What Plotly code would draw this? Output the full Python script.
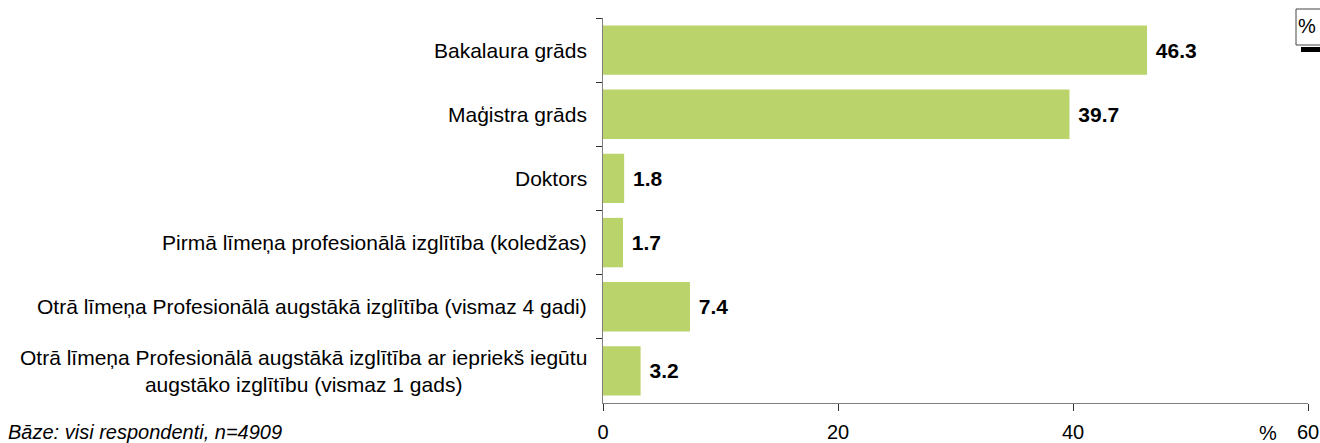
import plotly.graph_objects as go

categories = [
    "Bakalaura grāds",
    "Maģistra grāds",
    "Doktors",
    "Pirmā līmeņa profesionālā izglītība (koledžas)",
    "Otrā līmeņa Profesionālā augstākā izglītība (vismaz 4 gadi)",
    "Otrā līmeņa Profesionālā augstākā izglītība ar iepriekš iegūtu<br>augstāko izglītību (vismaz 1 gads)",
]
values = [46.3, 39.7, 1.8, 1.7, 7.4, 3.2]
x_ticks = [0, 20, 40, 60]
footnote = "Bāze: visi respondenti, n=4909"

FONT = "Liberation Sans, Arial, sans-serif"
BAR = "#BAD36A"
AX = "#808080"
FS = 20
FL = 21

fig = go.Figure(go.Bar(
    y=categories, x=values, orientation="h",
    marker=dict(color=BAR, line=dict(width=0)),
    text=[f"\u00a0<b>{v:.1f}</b>" for v in values],
    textposition="outside", cliponaxis=False,
    textfont=dict(family=FONT, size=FL, color="black"),
))

for c in categories:
    fig.add_annotation(
        x=0, xref="paper", y=c, yref="y", xanchor="right", xshift=-14,
        text=c, showarrow=False, align="center",
        font=dict(family=FONT, size=FL, color="black"),
    )

fig.add_annotation(x=0, xref="paper", y=0, yref="paper", text=f"<i>{footnote}</i>",
                   showarrow=False, xanchor="left", yanchor="middle",
                   xshift=-597, yshift=-29,
                   font=dict(family=FONT, size=FS, color="black"))
fig.add_annotation(x=1, xref="paper", y=0, yref="paper", text="%",
                   showarrow=False, xanchor="center", yanchor="middle",
                   xshift=-40, yshift=-30,
                   font=dict(family=FONT, size=FS, color="black"))

# cut-off legend box at top right (pixel positions converted to paper units)
W, H = 705.0, 385.0
def px(x):
    return (x - 603) / W
def py(y):
    return (403 - y) / H
fig.add_shape(type="rect", xref="paper", yref="paper",
              x0=px(1296), x1=px(1330), y0=py(45), y1=py(9),
              line=dict(color="#444", width=1), fillcolor="white")
fig.add_shape(type="rect", xref="paper", yref="paper",
              x0=px(1301), x1=px(1330), y0=py(52), y1=py(47),
              line=dict(width=0), fillcolor="black")
fig.add_annotation(x=px(1307), xref="paper", y=py(26), yref="paper", text="%",
                   showarrow=False, xanchor="center", yanchor="middle",
                   font=dict(family=FONT, size=FS, color="black"))

fig.update_layout(
    width=1320, height=443,
    margin=dict(l=603, r=12, t=18, b=40, autoexpand=False),
    plot_bgcolor="white", paper_bgcolor="white",
    showlegend=False, bargap=0.23,
    font=dict(family=FONT, size=FS, color="black"),
    xaxis=dict(range=[0, 60], tickvals=x_ticks, ticks="outside", ticklen=7,
               tickcolor="#333", showline=True, linecolor=AX, linewidth=1,
               showgrid=False, zeroline=False, automargin=False,
               ticklabelstandoff=4,
               tickfont=dict(family=FONT, size=FS, color="black")),
    yaxis=dict(autorange="reversed", showticklabels=False, ticks="outside",
               tickson="boundaries", ticklen=6, tickcolor="#333",
               showline=True, linecolor=AX, linewidth=1, showgrid=False,
               automargin=False),
)
fig.write_html("out.html", config={"displayModeBar": False},
               post_script="document.body.style.margin='0';document.body.style.overflow='hidden';")
